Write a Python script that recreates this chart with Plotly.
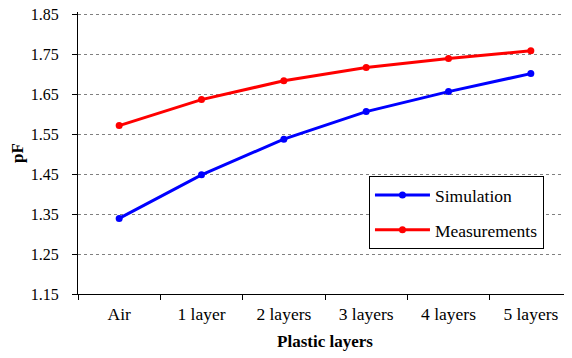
import plotly.graph_objects as go

categories = ["Air", "1 layer", "2 layers", "3 layers", "4 layers", "5 layers"]
simulation = [1.339, 1.448, 1.537, 1.606, 1.656, 1.701]
measurements = [1.571, 1.636, 1.683, 1.716, 1.739, 1.758]
y_ticks = [1.15, 1.25, 1.35, 1.45, 1.55, 1.65, 1.75, 1.85]

FF = "Liberation Serif, Times New Roman, serif"

fig = go.Figure()
fig.add_trace(go.Scatter(x=categories, y=simulation, name="Simulation",
                         mode="lines+markers", legendgroup="a",
                         line=dict(color="#0000ff", width=3),
                         marker=dict(color="#0000ff", size=7)))
fig.add_trace(go.Scatter(x=categories, y=measurements, name="Measurements",
                         mode="lines+markers", legendgroup="b",
                         line=dict(color="#ff0000", width=3),
                         marker=dict(color="#ff0000", size=7)))

# page body has an 8px margin, so the figure is offset by 8px
fig.update_layout(
    width=564, height=350,
    margin=dict(l=70, r=0, t=4, b=64),
    paper_bgcolor="white", plot_bgcolor="white",
    font=dict(family=FF, size=16, color="black"),
    showlegend=True,
    legend=dict(x=0.589, y=0.418, xanchor="left", yanchor="top",
                bordercolor="black", borderwidth=1, bgcolor="white",
                font=dict(size=17.5, family=FF, color="black"),
                tracegroupgap=9, itemwidth=55,
                entrywidth=170),
)
fig.update_xaxes(type="category", range=[-0.5, 5.5], automargin=False,
                 showline=True, linecolor="black", linewidth=1,
                 ticks="outside", tickson="boundaries", ticklen=5, tickcolor="black",
                 showgrid=False, tickfont=dict(size=17.5, family=FF, color="black"),
                 ticklabelstandoff=4,
                 title=dict(text="<b>Plastic layers</b>", font=dict(size=17, family=FF, color="black"), standoff=12))
fig.update_yaxes(range=[1.15, 1.855], tickvals=y_ticks, automargin=False,
                 ticktext=[f"{v:.2f}" for v in y_ticks],
                 ticklabeloverflow="allow",
                 showline=True, linecolor="black", linewidth=1,
                 ticks="outside", ticklen=5, tickcolor="black",
                 showgrid=True, gridcolor="#808080", griddash="dot", gridwidth=1,
                 zeroline=False, tickfont=dict(size=16, family=FF, color="black"),
                 ticklabelstandoff=10,
                 title=dict(text="<b>pF</b>", font=dict(size=17, family=FF, color="black"), standoff=6))

fig.write_html("out.html")
